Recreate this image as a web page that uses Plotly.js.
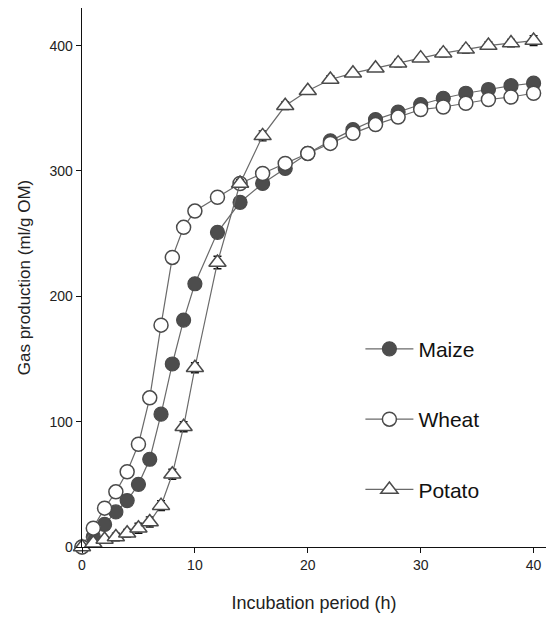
<!DOCTYPE html>
<html>
<head>
<meta charset="utf-8">
<script src="https://cdn.plot.ly/plotly-3.0.1.min.js"></script>
<style>html,body{margin:0;padding:0;background:#fff;}#chart{width:550px;height:619px;}</style>
</head>
<body>
<div id="chart"></div>
<script>
const hours = [0,1,2,3,4,5,6,7,8,9,10,12,14,16,18,20,22,24,26,28,30,32,34,36,38,40];
const maize = [0,8,18,28,37,50,70,106,146,181,210,251,275,290,302,314,324,333,341,347,353,358,362,365,368,370];
const wheat = [0,15,31,44,60,82,119,177,231,255,268,279,290,298,306,314,322,330,337,343,349,351,354,357,359,362];
const potato = [0,3,6,8,11,15,20,33,58,96,143,227,290,328,352,364,373,378,382,386,390,394,397,400,402,404];
const potatoErr = [0,2,2,3,3,4,4,4,4,4,4,5,3,4,3,2,3,2,2,3,2,3,3,3,3,4];
const seriesNames = ['Maize','Wheat','Potato'];
const xTicks = [0,10,20,30,40];
const yTicks = [0,100,200,300,400];

const lineCol = '#6a6a6a';
const edge = '#4a4a4a';
const traces = [
  {x: hours, y: maize, name: seriesNames[0], legendgroup: 'a', mode: 'lines+markers', cliponaxis: false,
   line: {color: lineCol, width: 1.2},
   marker: {symbol: 'circle', size: 14, color: '#4d4d4d', line: {color: edge, width: 1.2}}},
  {x: hours, y: wheat, name: seriesNames[1], legendgroup: 'b', mode: 'lines+markers', cliponaxis: false,
   line: {color: lineCol, width: 1.2},
   marker: {symbol: 'circle', size: 14, color: '#ffffff', line: {color: edge, width: 1.5}}},
  {x: hours, y: potato, name: seriesNames[2], legendgroup: 'c', mode: 'lines+markers', cliponaxis: false,
   line: {color: lineCol, width: 1.2},
   error_y: {type: 'data', array: potatoErr, visible: true, color: '#111', thickness: 1.4, width: 4},
   marker: {symbol: 'triangle-up', size: 15, color: '#ffffff', line: {color: edge, width: 1.5}}}
];

const layout = {
  width: 550, height: 619,
  margin: {l: 82, r: 4, t: 8, b: 72},
  paper_bgcolor: '#fff', plot_bgcolor: '#fff',
  font: {family: '"Liberation Sans", Arial, sans-serif', color: '#222', size: 14},
  showlegend: true,
  legend: {x: 0.6, y: 0.405, xanchor: 'left', yanchor: 'top', bgcolor: 'rgba(0,0,0,0)',
           font: {size: 21, color: '#111'}, itemwidth: 48, traceorder: 'grouped', tracegroupgap: 40},
  xaxis: {range: [0, 41.1], showline: true, linecolor: '#111', linewidth: 1.3, mirror: false,
          showgrid: false, zeroline: false, ticks: 'outside', ticklen: 5, tickcolor: '#111',
          tickvals: xTicks, ticktext: xTicks.map(String), tickfont: {size: 14, color: '#222'},
          title: {text: 'Incubation period (h)', font: {size: 18, color: '#222'}, standoff: 24}},
  yaxis: {range: [0, 430], showline: true, linecolor: '#111', linewidth: 1.3,
          showgrid: false, zeroline: false, ticks: 'outside', ticklen: 5, tickcolor: '#111',
          tickvals: yTicks, ticktext: yTicks.map(String), tickfont: {size: 14, color: '#222'},
          title: {text: 'Gas production (ml/g OM)', font: {size: 17, color: '#222'}, standoff: 14}}
};

Plotly.newPlot('chart', traces, layout, {displayModeBar: false, staticPlot: true});
</script>
</body>
</html>
